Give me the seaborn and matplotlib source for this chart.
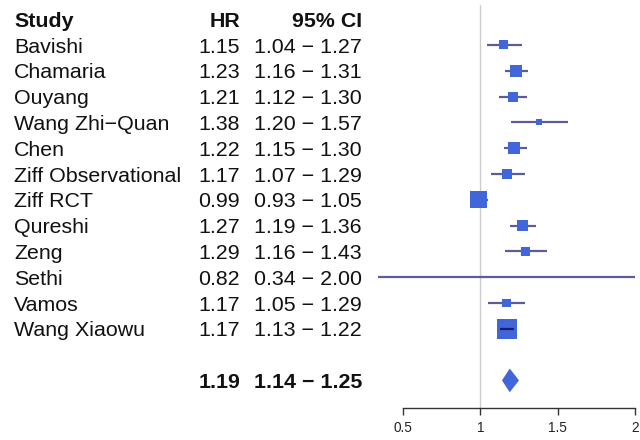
import numpy as np
import pandas as pd
import matplotlib
matplotlib.use("Agg")
import matplotlib.pyplot as plt
import matplotlib.transforms as mtransforms
import seaborn as sns

# study level data
studies = ["Bavishi", "Chamaria", "Ouyang", "Wang Zhi\u2212Quan", "Chen",
           "Ziff Observational", "Ziff RCT", "Qureshi", "Zeng", "Sethi",
           "Vamos", "Wang Xiaowu"]
hr = [1.15, 1.23, 1.21, 1.38, 1.22, 1.17, 0.99, 1.27, 1.29, 0.82, 1.17, 1.17]
ci_lo = [1.04, 1.16, 1.12, 1.20, 1.15, 1.07, 0.93, 1.19, 1.16, 0.34, 1.05, 1.13]
ci_hi = [1.27, 1.31, 1.30, 1.57, 1.30, 1.29, 1.05, 1.36, 1.43, 2.00, 1.29, 1.22]
weights = [5.1, 9.1, 6.3, 2.3, 9.1, 6.3, 18.3, 7.7, 5.1, 0.1, 5.1, 25.3]

# pooled estimate
pooled_hr = 1.19
pooled_lo = 1.14
pooled_hi = 1.25

x_ticks = [0.5, 1, 1.5, 2]
x_tick_labels = ["0.5", "1", "1.5", "2"]

df = pd.DataFrame({"study": studies, "hr": hr, "lo": ci_lo, "hi": ci_hi, "w": weights})
df["row"] = np.arange(len(df))
pooled_row = len(df) + 1

sns.set_theme(style="white")
plt.rcParams["font.family"] = ["Liberation Sans", "DejaVu Sans"]

box_col = "#4166d9"
line_col = "#5c5c96"
fs = 15.4

fig = plt.figure(figsize=(6.4, 4.4), dpi=100)
ax = fig.add_axes([0.5886, 0.0727, 0.4036, 0.916])
ax.set_xlim(0.33, 2.0)
ax.set_ylim(14.07, -1.55)

# reference line at HR = 1
ax.axvline(1, color="#cccccc", lw=1, zorder=0)

# confidence intervals
ax.hlines(df["row"], df["lo"], df["hi"], color=line_col, lw=1.6, zorder=1)

# boxes, area proportional to weight
sns.scatterplot(data=df, x="hr", y="row", size="w", sizes=(0.82, 207),
                size_norm=(min(weights), max(weights)), marker="s",
                color=box_col, linewidth=0, legend=False, ax=ax, zorder=2)

# where the box is wider than the CI draw the line on top
px_unit = ax.transData.transform((1, 0))[0] - ax.transData.transform((0, 0))[0]
for _, r in df.iterrows():
    half = 10 * np.sqrt(r["w"] / max(weights)) / px_unit
    if r["hr"] - r["lo"] < half and r["hi"] - r["hr"] < half:
        ax.hlines(r["row"], r["lo"], r["hi"], color="#1c1c70", lw=1.6, zorder=3)

# summary diamond
dh = 0.46
ax.fill([pooled_lo, pooled_hr, pooled_hi, pooled_hr],
        [pooled_row, pooled_row - dh, pooled_row, pooled_row + dh],
        color=box_col, lw=0, zorder=2)

for s in ["top", "left", "right"]:
    ax.spines[s].set_visible(False)
ax.spines["bottom"].set_bounds(0.5, 2)
ax.spines["bottom"].set_color("#333333")
ax.spines["bottom"].set_linewidth(1)
ax.set_xticks(x_ticks)
ax.set_xticklabels(x_tick_labels)
ax.set_yticks([])
ax.tick_params(axis="x", direction="out", length=5, width=1, color="#333333",
               labelsize=9.8, labelcolor="#222222", pad=4, bottom=True)
ax.set_xlabel("")
ax.set_ylabel("")

# text columns
base = mtransforms.blended_transform_factory(fig.transFigure, ax.transData)
trans = mtransforms.offset_copy(base, fig=fig, y=-fs * 0.358, units="points")
x_study, x_hr, x_ci = 14 / 640, 240 / 640, 362 / 640
txt = dict(transform=trans, va="baseline", fontsize=fs, color="#111111", clip_on=False)

ax.text(x_study, -1, "Study", ha="left", fontweight="bold", **txt)
ax.text(x_hr, -1, "HR", ha="right", fontweight="bold", **txt)
ax.text(x_ci, -1, "95% CI", ha="right", fontweight="bold", **txt)
for _, r in df.iterrows():
    ax.text(x_study, r["row"], r["study"], ha="left", **txt)
    ax.text(x_hr, r["row"], f"{r['hr']:.2f}", ha="right", **txt)
    ax.text(x_ci, r["row"], f"{r['lo']:.2f} \u2212 {r['hi']:.2f}", ha="right", **txt)
ax.text(x_hr, pooled_row, f"{pooled_hr:.2f}", ha="right", fontweight="bold", **txt)
ax.text(x_ci, pooled_row, f"{pooled_lo:.2f} \u2212 {pooled_hi:.2f}", ha="right",
        fontweight="bold", **txt)

fig.savefig("out.png", dpi=100)
